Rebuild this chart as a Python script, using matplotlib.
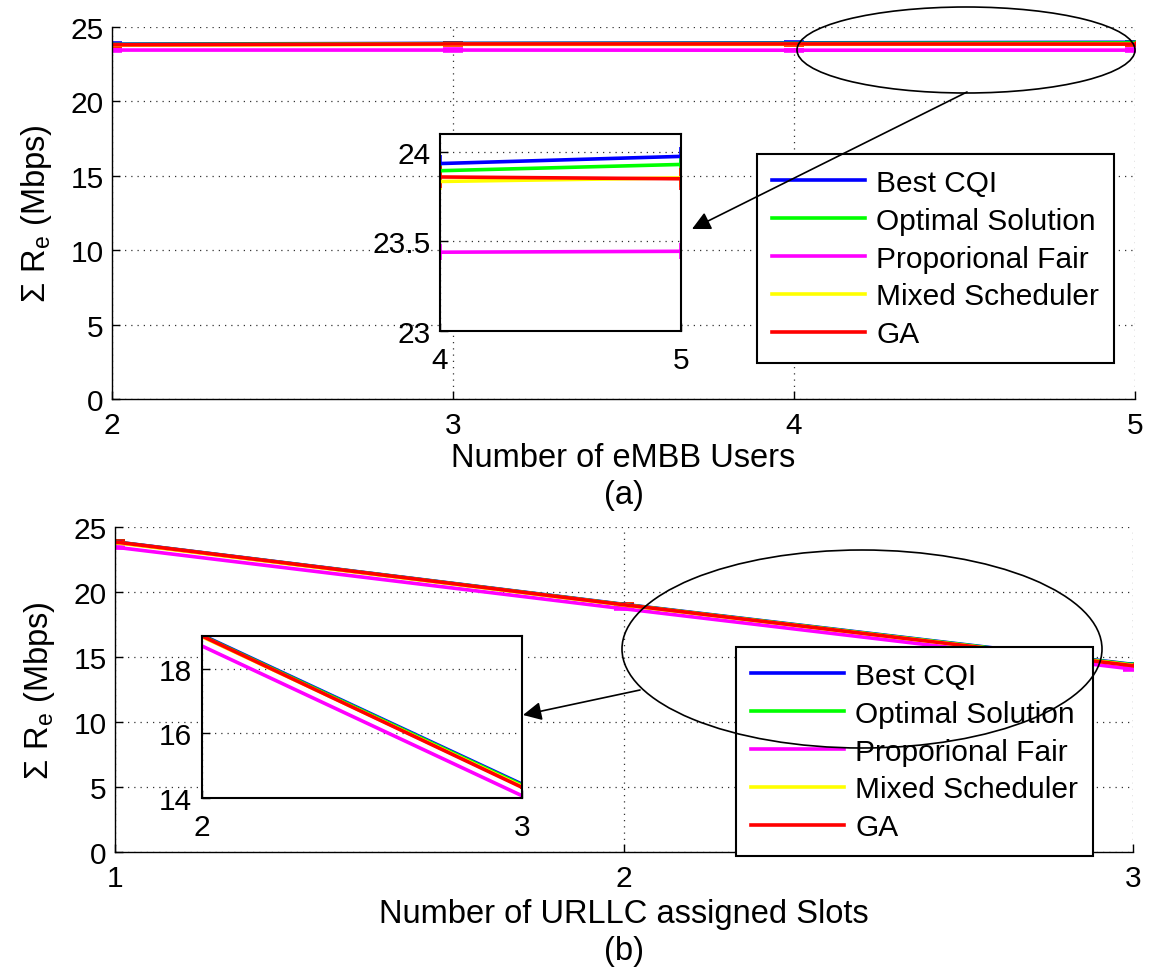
import matplotlib
matplotlib.use("Agg")
from matplotlib import pyplot as plt
from matplotlib.lines import Line2D
from matplotlib.patches import Ellipse, FancyArrowPatch

plt.rcParams['font.family'] = ['Liberation Sans', 'DejaVu Sans']
plt.rcParams['mathtext.fontset'] = 'custom'
plt.rcParams['mathtext.rm'] = 'Liberation Sans'
FS = 23.5   # axis labels
TS = 21.5   # ticks and legend

# sum rate vs number of eMBB users
embb_users = [2, 3, 4, 5]
embb_best_cqi = [23.85, 23.90, 23.935, 23.975]
embb_optimal = [23.82, 23.88, 23.895, 23.93]
embb_pf = [23.45, 23.45, 23.44, 23.445]
embb_mixed = [23.78, 23.83, 23.835, 23.855]
embb_ga = [23.80, 23.86, 23.86, 23.85]

# sum rate vs number of URLLC slots
urllc_slots = [1, 2, 3]
urllc_best_cqi = [23.86, 19.05, 14.43]
urllc_optimal = [23.84, 19.03, 14.40]
urllc_pf = [23.45, 18.71, 14.07]
urllc_mixed = [23.80, 19.00, 14.36]
urllc_ga = [23.85, 19.02, 14.33]

labels = ['Best CQI', 'Optimal Solution', 'Proporional Fair',
          'Mixed Scheduler', 'GA']
colors = ['#0000ff', '#00ff00', '#ff00ff', '#ffff00', '#ff0000']
errs = [0.05, 0.05, 0.045, 0.05, 0.06]

W, H = 1150, 970


def px_rect(l, t, r, b):
    return [l / W, 1 - b / H, (r - l) / W, (b - t) / H]


def px_pt(x, y):
    return (x / W, 1 - y / H)


def draw_series(ax, x, series, capsize=7):
    for y, c, e in zip(series, colors, errs):
        ax.errorbar(x, y, yerr=e, color=c, lw=2.6, capsize=capsize,
                    capthick=2.6, elinewidth=2.6)


def style(ax, box=False, xpad=9, ypad=6):
    ax.grid(True, linestyle=(0, (1, 4)), color='#333333', lw=0.9)
    ax.tick_params(direction='in', length=6, width=1, labelsize=TS,
                   top=False, right=False)
    ax.tick_params(axis='x', pad=xpad)
    ax.tick_params(axis='y', pad=ypad)
    for s in ['top', 'right']:
        ax.spines[s].set_visible(box)
    for s in ax.spines.values():
        s.set_linewidth(1.5 if box else 1.0)


def add_legend(ax, rect_px):
    handles = [Line2D([], [], color=c, lw=2.6) for c in colors]
    l, t, r, b = rect_px
    leg = ax.legend(handles, labels, loc='upper left',
                    bbox_to_anchor=px_pt(l, t), bbox_transform=fig.transFigure,
                    borderaxespad=0, fancybox=False, framealpha=1,
                    edgecolor='black', handlelength=3.1, handletextpad=0.4,
                    labelspacing=0.33, borderpad=0.5, fontsize=TS)
    leg.get_frame().set_linewidth(1.5)
    leg.set_zorder(20)


fig = plt.figure(figsize=(11.5, 9.7), dpi=100)
series_a = [embb_best_cqi, embb_optimal, embb_pf, embb_mixed, embb_ga]
series_b = [urllc_best_cqi, urllc_optimal, urllc_pf, urllc_mixed, urllc_ga]
ylab = r'$\Sigma\ \mathregular{R_e}$ (Mbps)'

# (a) eMBB users
ax1 = fig.add_axes(px_rect(112, 28, 1135, 400))
draw_series(ax1, embb_users, series_a)
ax1.set_xlim(2, 5)
ax1.set_ylim(0, 25)
ax1.set_xticks([2, 3, 4, 5])
ax1.set_yticks([0, 5, 10, 15, 20, 25])
ax1.set_xlabel('Number of eMBB Users\n(a)', fontsize=FS, labelpad=2,
               linespacing=1.25)
ax1.set_ylabel(ylab, fontsize=FS, labelpad=12)
style(ax1)
add_legend(ax1, (757, 155, 1131, 362))

in1 = fig.add_axes(px_rect(440, 135, 681, 332))
draw_series(in1, embb_users, series_a, capsize=0)
in1.set_xlim(4, 5)
in1.set_ylim(23, 24.1)
in1.set_xticks([4, 5])
in1.set_yticks([23, 23.5, 24])
in1.set_yticklabels(['23', '23.5', '24'])
style(in1, box=True, xpad=11, ypad=7)
in1.set_zorder(10)

# (b) URLLC slots
ax2 = fig.add_axes(px_rect(115, 528, 1133, 853))
draw_series(ax2, urllc_slots, series_b)
ax2.set_xlim(1, 3)
ax2.set_ylim(0, 25)
ax2.set_xticks([1, 2, 3])
ax2.set_yticks([0, 5, 10, 15, 20, 25])
ax2.set_xlabel('Number of URLLC assigned Slots\n(b)', fontsize=FS, labelpad=4,
               linespacing=1.25)
ax2.set_ylabel(ylab, fontsize=FS, labelpad=12)
style(ax2)
add_legend(ax2, (736, 648, 1120, 855))

in2 = fig.add_axes(px_rect(202, 637, 522, 799))
draw_series(in2, urllc_slots, series_b, capsize=0)
in2.set_xlim(2, 3)
in2.set_ylim(14, 19.02)
in2.set_xticks([2, 3])
in2.set_yticks([14, 16, 18])
style(in2, box=True, xpad=11, ypad=7)
in2.set_zorder(10)

# zoom callouts
for cx, cy, w, h in [(966, 51, 338, 86), (862, 650, 480, 198)]:
    e = Ellipse(px_pt(cx, cy), w / W, h / H, transform=fig.transFigure,
                fill=False, edgecolor='black', lw=1.2, zorder=30)
    fig.add_artist(e)

for (x0, y0), (x1, y1) in [((967, 93), (692, 230)), ((640, 691), (523, 716))]:
    a = FancyArrowPatch(px_pt(x0, y0), px_pt(x1, y1),
                        transform=fig.transFigure, arrowstyle='-|>',
                        mutation_scale=28, color='black', lw=1.2,
                        shrinkA=0, shrinkB=0, zorder=30)
    fig.add_artist(a)

fig.savefig('out.png', dpi=100)
